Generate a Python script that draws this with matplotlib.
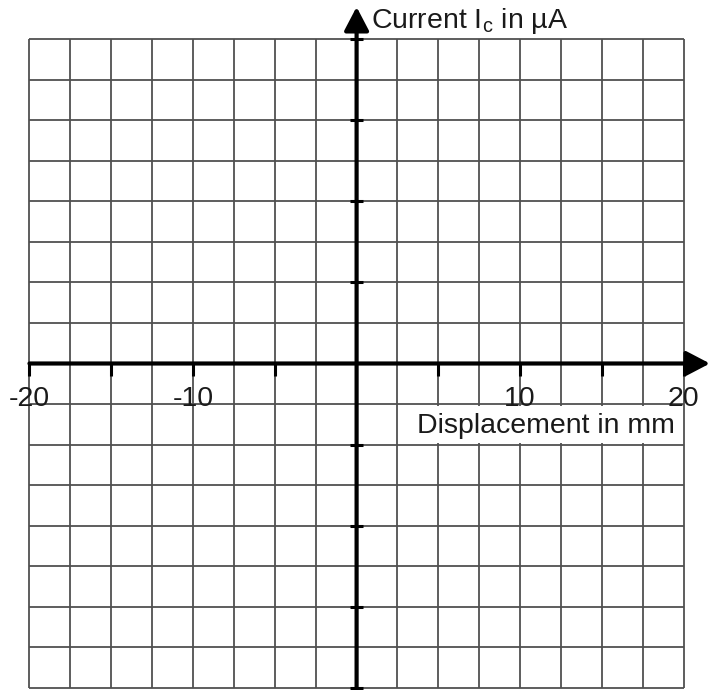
import numpy as np
import matplotlib
matplotlib.use("Agg")
import matplotlib.pyplot as plt
from matplotlib.patches import Rectangle

plt.rcParams["font.family"] = ["Liberation Sans", "DejaVu Sans"]
plt.rcParams["mathtext.fontset"] = "custom"
plt.rcParams["mathtext.rm"] = "Liberation Sans"

# Axis ranges and grid spacing
x_min, x_max = -20, 20
x_grid_step = 2.5
x_tick_step = 5
x_label_values = [-20, -10, 10, 20]
y_min, y_max = -8, 8
y_grid_step = 1
y_tick_step = 2
x_title = "Displacement in mm"
y_title = r"Current I$_{\mathregular{c}}$ in µA"

fig = plt.figure(figsize=(7.14, 6.90), dpi=100)
ax = fig.add_axes([0, 0, 1, 1])
ax.set_xlim(-21.80, 21.85)
ax.set_ylim(-8.049, 8.961)
ax.axis("off")

grid_kw = dict(color="#505050", lw=1.3, zorder=1)
xs = np.arange(x_min, x_max + x_grid_step / 2, x_grid_step)
ys = np.arange(y_min, y_max + y_grid_step / 2, y_grid_step)
ax.vlines(xs, y_min, y_max, **grid_kw)
ax.hlines(ys, x_min, x_max, **grid_kw)

# Main axes with arrow heads
arrow_kw = dict(arrowstyle="-|>,head_length=0.9,head_width=0.47", lw=3,
                color="black", shrinkA=0, shrinkB=0, mutation_scale=16)
ax.annotate("", xy=(21.6, 0), xytext=(x_min, 0), arrowprops=arrow_kw,
            zorder=4, annotation_clip=False)
ax.annotate("", xy=(0, 8.79), xytext=(0, y_min), arrowprops=arrow_kw,
            zorder=4, annotation_clip=False)

# Tick marks on the x axis (downwards)
xt = [v for v in np.arange(x_min, x_max + 0.1, x_tick_step) if v != 0]
ax.vlines(xt, -0.3, 0, color="black", lw=2.2, zorder=4)
# Tick marks on the y axis (across)
yt = [v for v in np.arange(y_min, y_max + 0.1, y_tick_step) if v != 0]
ax.hlines(yt, -0.4, 0.4, color="black", lw=2.2, zorder=4)

for v in x_label_values:
    ax.text(v, -0.87, f"{v:g}", ha="center", va="center", fontsize=20.5,
            color="#1a1a1a", zorder=5)

# White box behind the x-axis title
ax.add_patch(Rectangle((3.3, -1.96), 16.6, 0.91, facecolor="white",
                       edgecolor="none", zorder=3))
ax.text(11.6, -1.55, x_title, ha="center", va="center", fontsize=20.5,
        color="#1a1a1a", zorder=6)

ax.text(0.9, 8.45, y_title, ha="left", va="center", fontsize=20.5,
        color="#1a1a1a", zorder=6)

fig.savefig("out.png", dpi=100, facecolor="white")
